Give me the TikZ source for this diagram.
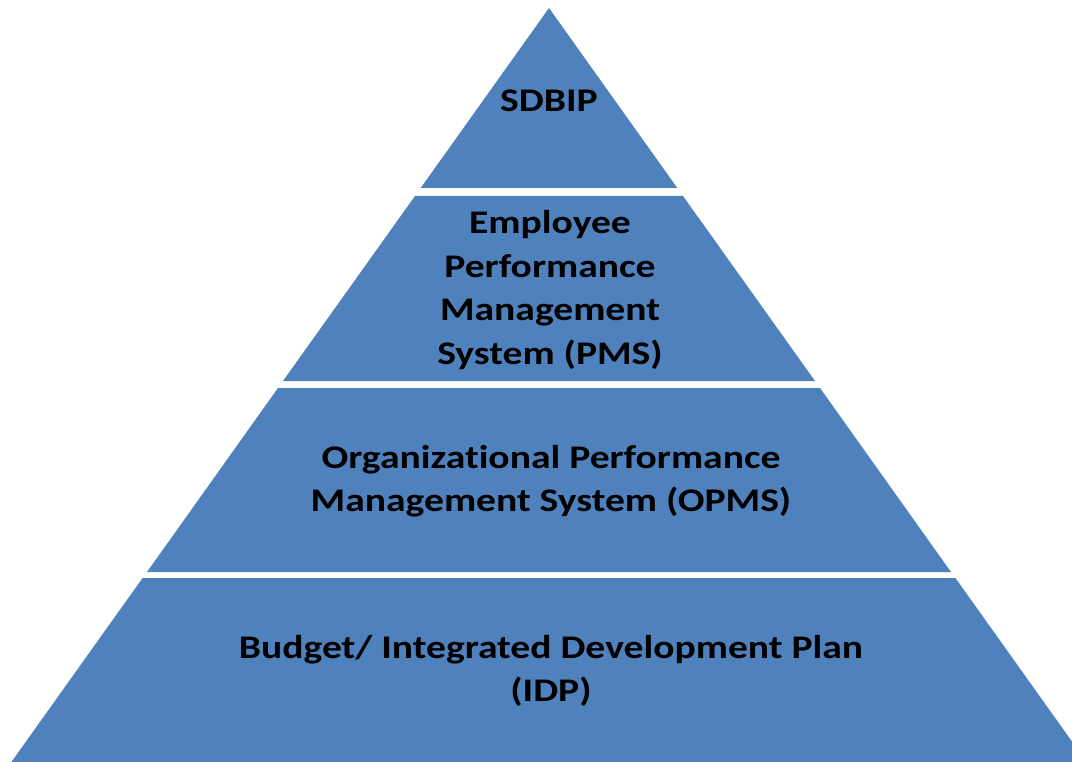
\documentclass[tikz,border=0pt]{standalone}
\usepackage{fontspec}
\setmainfont[FakeStretch=1.2,Ligatures=NoCommon]{Carlito}
\usepackage{xcolor}
\usepackage{tikz}

\definecolor{tierblue}{RGB}{79,129,189}

\begin{document}
\begin{tikzpicture}[x=1pt,y=1pt,yscale=-1,xscale=1,
  tier/.style={fill=tierblue},
  tiertext/.style={align=center,inner sep=0.75pt,font=\fontsize{33}{43.5}\selectfont\bfseries}]
\useasboundingbox (0,0) rectangle (1072,762);
\clip (0,0) rectangle (1072,762);

%Shape: Triangle [tier 1]
\fill [tier] (549,8) -- (677.3,188) -- (420.7,188) -- cycle ;
%Shape: Trapezoid [tier 2]
\fill [tier] (415,196) -- (683,196) -- (815,381) -- (283,381) -- cycle ;
%Shape: Trapezoid [tier 3]
\fill [tier] (278,388) -- (820,388) -- (951,572) -- (147,572) -- cycle ;
%Shape: Trapezoid [tier 4]
\fill [tier] (142.6,578) -- (955.4,578) -- (1086.6,762) -- (11.4,762) -- cycle ;

% Text Node
\node [tiertext] (sdbip) at (549,101) {SDBIP};
% Text Node
\node [tiertext] (pms) at (550,290) {Employee\\Performance\\Management\\System (PMS)};
% Text Node
\node [tiertext] (opms) at (551,481) {Organizational Performance\\Management System (OPMS)};
% Text Node
\node [tiertext] (idp) at (551,671) {Budget/ Integrated Development Plan\\(IDP)};

\end{tikzpicture}
\end{document}
